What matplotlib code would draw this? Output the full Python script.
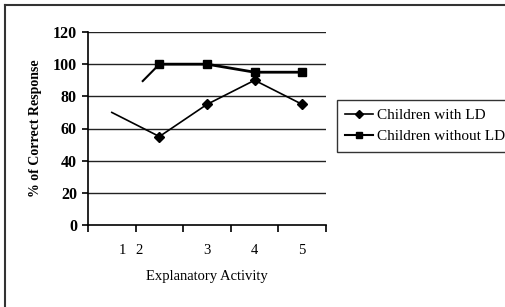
import numpy as np
import matplotlib
matplotlib.use("Agg")
import matplotlib.pyplot as plt
import matplotlib.transforms as mtransforms
from matplotlib.lines import Line2D

# 数据
activity = ["1", "2", "3", "4", "5"]
with_ld = [70, 55, 75, 90, 75]
without_ld = [70, 100, 100, 95, 95]
y_ticks = [0, 20, 40, 60, 80, 100, 120]

plt.rcParams['font.family'] = ['Liberation Serif', 'DejaVu Serif']

fig = plt.figure(figsize=(5.06, 3.07), dpi=100)
ax = fig.add_axes([88 / 506, 1 - 225 / 307, (326 - 88) / 506, (225 - 32) / 307])

x = np.arange(1, len(activity) + 1)

# 网格线
for v in y_ticks[1:]:
    ax.axhline(v, color="#222222", linewidth=1.0, zorder=1)

# 有LD的儿童 (第一个点没有标记)
ax.plot(x, with_ld, color="black", linewidth=1.2, marker="D", markersize=5,
        markevery=[1, 2, 3, 4], zorder=3)

# 无LD的儿童 (第一段只画了一部分)
f = 0.65
x0 = x[0] + f * (x[1] - x[0])
y0 = without_ld[0] + f * (without_ld[1] - without_ld[0])
ax.plot([x0, x[1]], [y0, without_ld[1]], color="black", linewidth=1.5, zorder=3)
ax.plot(x[1:], without_ld[1:], color="black", linewidth=2.0, marker="s",
        markersize=6, zorder=3)

ax.set_xlim(0.5, len(activity) + 0.5)
ax.set_ylim(0, 120)
ax.set_yticks(y_ticks)
ax.set_yticklabels([str(v) for v in y_ticks], fontweight="bold", fontsize=11.5)
ax.set_xticks(np.arange(0.5, len(activity) + 1, 1.0))
ax.set_xticklabels([])
ax.set_xticks(x, minor=True)
ax.set_xticklabels(activity, minor=True, fontsize=10.5)
ax.tick_params(axis="x", which="major", direction="out", length=5, width=1.2, color="black")
ax.tick_params(axis="x", which="minor", length=0, pad=14)
ax.tick_params(axis="y", direction="out", length=4, width=1.2, pad=4)

# 标签位置偏移 (原图1和2的位置)
offsets = [11, -20, 0, 0, 0]
for lab, dx in zip(ax.get_xticklabels(minor=True), offsets):
    lab.set_transform(lab.get_transform() + mtransforms.ScaledTranslation(dx / 100, 0, fig.dpi_scale_trans))

for s in ["top", "right"]:
    ax.spines[s].set_visible(False)
ax.spines["left"].set_linewidth(1.2)
ax.spines["bottom"].set_linewidth(1.2)

ax.set_ylabel("% of Correct Response", fontsize=10, fontweight="bold", labelpad=8)
ax.set_xlabel("Explanatory Activity", fontsize=10.5, labelpad=9)

handles = [
    Line2D([], [], color="black", linewidth=1.2, marker="D", markersize=4),
    Line2D([], [], color="black", linewidth=1.5, marker="s", markersize=5),
]
leg = fig.legend(handles, ["Children with LD", "Children without LD"],
                 loc="upper left", bbox_to_anchor=(337 / 506, 1 - 100 / 307),
                 frameon=True, fancybox=False, edgecolor="black", fontsize=11,
                 handlelength=1.8, handletextpad=0.3, borderpad=0.55, labelspacing=0.5,
                 borderaxespad=0)
leg.get_frame().set_linewidth(1.0)

# 外框 (左边和上边)
fig.add_artist(Line2D([5 / 506, 5 / 506], [0, 1 - 5 / 307], color="#333333", linewidth=1.5))
fig.add_artist(Line2D([5 / 506, 1], [1 - 5 / 307, 1 - 5 / 307], color="#333333", linewidth=1.5))

fig.savefig("out.png", dpi=100)
